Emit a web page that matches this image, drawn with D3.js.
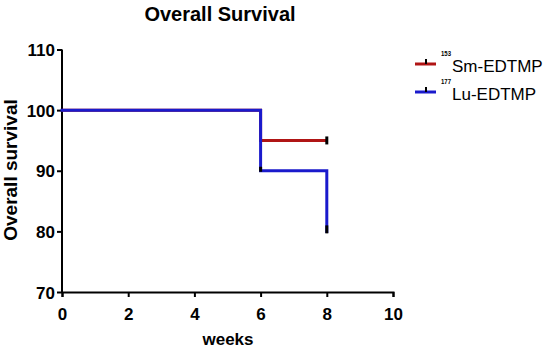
<!DOCTYPE html>
<html><head><meta charset="utf-8">
<script src="https://cdn.jsdelivr.net/npm/d3@7"></script>
<style>body{margin:0;background:#fff}svg{display:block}text{font-family:Arial,"Liberation Sans",sans-serif}</style>
</head><body>
<svg id="c" width="548" height="349"></svg>
<script>
const xTicks = [0, 2, 4, 6, 8, 10];
const yTicks = [70, 80, 90, 100, 110];
const seriesNames = ["Sm-EDTMP", "Lu-EDTMP"];
const seriesSup = ["153", "177"];
const seriesColors = ["#b01515", "#1a1acc"];
// step curves: [week, survival %]
const smSteps = [[0, 100], [6, 100], [6, 95], [8, 95]];
const luSteps = [[0, 100], [6, 100], [6, 90], [8, 90], [8, 80]];
const smCensor = [[8, 95]];
const luEventMarks = [[6, 90], [8, 80]];

const svg = d3.select("#c");
const x = d3.scaleLinear().domain([0, 10]).range([62, 393]);
const y = d3.scaleLinear().domain([70, 110]).range([292, 49.5]);

svg.append("text").attr("x", 220).attr("y", 21).attr("text-anchor", "middle")
  .attr("font-size", 20).attr("font-weight", "bold").text("Overall Survival");

const xa = svg.append("g").attr("transform", "translate(0,292)")
  .call(d3.axisBottom(x).tickValues(xTicks).tickSize(5).tickPadding(4).tickFormat(d3.format("d")));
const ya = svg.append("g").attr("transform", "translate(62,0)")
  .call(d3.axisLeft(y).tickValues(yTicks).tickSize(5).tickPadding(2).tickFormat(d3.format("d")));
[xa, ya].forEach(a => {
  a.select(".domain").attr("stroke", "#000").attr("stroke-width", 2);
  a.selectAll(".tick line").attr("stroke", "#000").attr("stroke-width", 2);
  a.selectAll(".tick text").attr("font-size", 17).attr("font-weight", "bold").attr("fill", "#000")
    .style("font-family", "Arial, 'Liberation Sans', sans-serif");
});
ya.select(".domain").attr("d", `M-0,${y(110)}H0V${y(70)}H0`);
ya.selectAll(".tick text").attr("dy", "0.36em");
xa.selectAll(".tick text").attr("y", 28).attr("dy", 0);

svg.append("text").attr("x", 228).attr("y", 345).attr("text-anchor", "middle")
  .attr("font-size", 17).attr("font-weight", "bold").text("weeks");
svg.append("text").attr("transform", "translate(17,170) rotate(-90)").attr("text-anchor", "middle")
  .attr("font-size", 19).attr("font-weight", "bold").text("Overall survival");

const line = d3.line().x(d => x(d[0])).y(d => y(d[1]));
svg.append("path").datum(smSteps).attr("d", line).attr("fill", "none")
  .attr("stroke", seriesColors[0]).attr("stroke-width", 3);
svg.append("path").datum(luSteps).attr("d", line).attr("fill", "none")
  .attr("stroke", seriesColors[1]).attr("stroke-width", 3).attr("stroke-linejoin", "miter").attr("stroke-linecap", "square");

// censor tick on Sm
svg.selectAll(".cs").data(smCensor).enter().append("line")
  .attr("x1", d => x(d[0])).attr("x2", d => x(d[0]))
  .attr("y1", d => y(d[1]) - 4).attr("y2", d => y(d[1]) + 4)
  .attr("stroke", "#000").attr("stroke-width", 3);
// small black marks on Lu
svg.append("line").attr("x1", x(6)).attr("x2", x(6)).attr("y1", y(90) - 4).attr("y2", y(90) + 1)
  .attr("stroke", "#000").attr("stroke-width", 3);
svg.append("line").attr("x1", x(8)).attr("x2", x(8)).attr("y1", y(80) - 6).attr("y2", y(80) + 2)
  .attr("stroke", "#000").attr("stroke-width", 3);

// legend
const lg = svg.append("g");
seriesNames.forEach((n, i) => {
  const ly = 64 + i * 28;
  lg.append("line").attr("x1", 415).attr("x2", 436).attr("y1", ly).attr("y2", ly)
    .attr("stroke", seriesColors[i]).attr("stroke-width", 3);
  lg.append("line").attr("x1", 426).attr("x2", 426).attr("y1", ly - 5).attr("y2", ly)
    .attr("stroke", "#000").attr("stroke-width", 2);
  lg.append("text").attr("x", 441).attr("y", ly - 8).attr("font-size", 8).attr("font-weight", "bold")
    .attr("textLength", 10).attr("lengthAdjust", "spacingAndGlyphs").text(seriesSup[i]);
  lg.append("text").attr("x", 452).attr("y", ly + 8).attr("font-size", 17).text(n);
});
</script>
</body></html>
